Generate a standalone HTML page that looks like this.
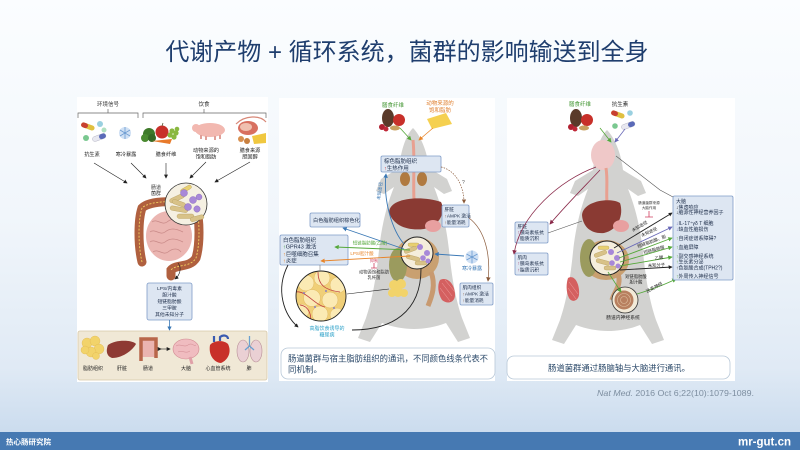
<!DOCTYPE html>
<html><head><meta charset="utf-8"><style>
html,body{margin:0;padding:0;width:800px;height:450px;overflow:hidden;background:#fff;}
svg{display:block;font-family:"Liberation Sans","Noto Sans CJK SC",sans-serif;}
</style></head><body>
<svg width="800" height="450" viewBox="0 0 800 450" xmlns="http://www.w3.org/2000/svg">
<defs>
<linearGradient id="bg" x1="0" y1="0" x2="0" y2="1">
<stop offset="0" stop-color="#fbfdff"/>
<stop offset="0.5" stop-color="#f1f6fb"/>
<stop offset="0.85" stop-color="#e0eaf5"/>
<stop offset="1" stop-color="#cbdcee"/>
</linearGradient>
<marker id="mk" viewBox="0 0 6 6" refX="5" refY="3" markerWidth="4" markerHeight="4" orient="auto" markerUnits="userSpaceOnUse"><path d="M0,0 L6,3 L0,6 Z" fill="#222"/></marker>
<marker id="mb" viewBox="0 0 6 6" refX="5" refY="3" markerWidth="4.5" markerHeight="4.5" orient="auto" markerUnits="userSpaceOnUse"><path d="M0,0 L6,3 L0,6 Z" fill="#3a78b5"/></marker>
<marker id="mg" viewBox="0 0 6 6" refX="5" refY="3" markerWidth="4.5" markerHeight="4.5" orient="auto" markerUnits="userSpaceOnUse"><path d="M0,0 L6,3 L0,6 Z" fill="#55a83a"/></marker>
<marker id="mo" viewBox="0 0 6 6" refX="5" refY="3" markerWidth="4.5" markerHeight="4.5" orient="auto" markerUnits="userSpaceOnUse"><path d="M0,0 L6,3 L0,6 Z" fill="#e8852a"/></marker>
<marker id="mn" viewBox="0 0 6 6" refX="5" refY="3" markerWidth="4.5" markerHeight="4.5" orient="auto" markerUnits="userSpaceOnUse"><path d="M0,0 L6,3 L0,6 Z" fill="#8a5a3a"/></marker>
<marker id="mm" viewBox="0 0 6 6" refX="5" refY="3" markerWidth="4.5" markerHeight="4.5" orient="auto" markerUnits="userSpaceOnUse"><path d="M0,0 L6,3 L0,6 Z" fill="#8a2a4a"/></marker>
<marker id="mp" viewBox="0 0 6 6" refX="5" refY="3" markerWidth="4.5" markerHeight="4.5" orient="auto" markerUnits="userSpaceOnUse"><path d="M0,0 L6,3 L0,6 Z" fill="#6a6ab8"/></marker>
<clipPath id="fatclip"><circle cx="321" cy="296" r="25"/></clipPath>
<path id="mouse" d="M413,128 C420,135 427,150 429,168 L447,179 L452,191 L444,194 L434,187 C440,202 446,222 449,250 C452,280 456,300 462,318 L470,338 L458,342 L446,323 C436,327 424,329 414,329 C404,329 392,327 382,323 L370,342 L358,338 L366,318 C372,300 376,280 379,250 C382,222 388,202 394,187 L384,194 L376,191 L381,179 L399,168 C401,150 406,135 413,128 Z"/>
</defs>

<rect width="800" height="432" fill="url(#bg)"/>
<rect y="432" width="800" height="18" fill="#4679b2"/>
<text x="6" y="444.5" font-size="7.5" font-weight="bold" fill="#fff">热心肠研究院</text>
<text x="791" y="445.5" font-size="11.5" font-weight="bold" fill="#fff" text-anchor="end">mr-gut.cn</text>

<text x="407" y="60" font-size="24" fill="#1f3e6e" text-anchor="middle">代谢产物 + 循环系统，菌群的影响输送到全身</text>

<text x="754" y="396" font-size="8.5" fill="#7d8ea0" text-anchor="end" textLength="157" lengthAdjust="spacingAndGlyphs"><tspan font-style="italic">Nat Med.</tspan> 2016 Oct 6;22(10):1079-1089.</text>

<!-- ================= PANEL 1 ================= -->
<rect x="77" y="97" width="191" height="285" fill="#fff"/>
<g stroke="#666" stroke-width="0.7" fill="none">
<path d="M78,118 V113 H138 V118 M108,113 V109"/>
<path d="M143,118 V113 H266 V118 M204,113 V109"/>
</g>
<g font-size="5.5" fill="#333" text-anchor="middle">
<text x="108" y="106">环境信号</text>
<text x="204" y="106">饮食</text>
</g>
<!-- pills -->
<g>
<rect x="81" y="124" width="14" height="5" rx="2.5" fill="#e0c040" transform="rotate(20 88 126)"/>
<rect x="81" y="124" width="7" height="5" rx="2.5" fill="#c84030" transform="rotate(20 88 126)"/>
<rect x="92" y="135" width="14" height="5" rx="2.5" fill="#e8e8f0" stroke="#aab" stroke-width="0.4" transform="rotate(-20 99 137)"/>
<rect x="99" y="135" width="7" height="5" rx="2.5" fill="#5a6ab8" transform="rotate(-20 99 137)"/>
<circle cx="100" cy="124" r="3" fill="#9ad0e0"/>
<circle cx="86" cy="138" r="3" fill="#7ac890"/>
<circle cx="104" cy="130" r="2.5" fill="#b0e0c0"/>
</g>
<!-- snowflake -->
<circle cx="125" cy="133" r="6" fill="#cfe0f4"/>
<g stroke="#6a9ad0" stroke-width="0.8"><path d="M125,127 V139 M120,130 L130,136 M120,136 L130,130"/></g>
<!-- veggies -->
<circle cx="149" cy="134" r="6" fill="#3e7a2a"/><circle cx="145" cy="138" r="4" fill="#4a8a30"/><circle cx="152" cy="138" r="4" fill="#356a25"/>
<circle cx="162" cy="132" r="6.5" fill="#c8302a"/><path d="M162,126 l1,-3" stroke="#553" stroke-width="0.8"/>
<path d="M152,141 L172,139 L170,144 Z" fill="#e87a2a"/>
<g fill="#8ab840"><circle cx="172" cy="131" r="2.6"/><circle cx="176" cy="133" r="2.6"/><circle cx="170" cy="135" r="2.6"/><circle cx="174" cy="137" r="2.6"/><circle cx="177" cy="129" r="2.3"/></g>
<!-- pig -->
<ellipse cx="210" cy="130" rx="15" ry="7" fill="#f2b8b0"/>
<ellipse cx="196" cy="128" rx="4" ry="4" fill="#f2b8b0"/>
<g stroke="#e0a098" stroke-width="2"><path d="M201,135 v4 M206,136 v4 M215,136 v4 M220,135 v4"/></g>
<!-- meat/cheese -->
<ellipse cx="248" cy="128" rx="10" ry="7" fill="#d87060"/>
<ellipse cx="246" cy="127" rx="6" ry="4" fill="#f0c0b0"/>
<path d="M252,136 L266,133 L266,143 L254,144 Z" fill="#f0c840"/>
<circle cx="241" cy="139" r="3" fill="#d89050"/><circle cx="247" cy="141" r="3" fill="#c88040"/>
<path d="M236,124 C245,115 260,115 266,122" stroke="#d88878" stroke-width="1.2" fill="none"/>
<!-- labels -->
<g font-size="5.2" fill="#222" text-anchor="middle">
<text x="92" y="156">抗生素</text>
<text x="126" y="156">寒冷暴露</text>
<text x="166" y="156">膳食纤维</text>
<text x="206" y="152">动物来源的</text>
<text x="206" y="158.5">饱和脂肪</text>
<text x="250" y="152">膳食来源</text>
<text x="250" y="158.5">胆固醇</text>
</g>
<g stroke="#222" stroke-width="0.6" fill="none" marker-end="url(#mk)">
<path d="M94,163 L127,183"/>
<path d="M131,163 L146,178"/>
<path d="M166,163 L166,178"/>
<path d="M206,162 L190,178"/>
<path d="M250,162 L215,182"/>
</g>
<text x="156" y="189" font-size="5" fill="#333" text-anchor="middle">肠道</text>
<text x="156" y="195" font-size="5" fill="#333" text-anchor="middle">菌群</text>
<!-- intestines -->
<ellipse cx="169" cy="236" rx="23" ry="25" fill="#ebb6b2"/>
<g stroke="#c98a88" stroke-width="0.8" fill="none">
<path d="M152,222 c5,-4 10,4 15,0 s10,-4 15,0 M150,232 c5,-4 10,4 15,0 s10,-4 18,0 M150,242 c5,-4 10,4 15,0 s10,-4 18,0 M153,252 c5,-4 10,4 15,0 s10,-4 13,0"/>
</g>
<path d="M142,262 C138,245 138,220 142,208 C150,200 180,200 196,206 C200,220 200,245 196,258 C190,268 176,264 171,270 L171,276" stroke="#b0603f" stroke-width="9" fill="none" stroke-linecap="round"/>
<path d="M142,262 C138,245 138,220 142,208 C150,200 180,200 196,206 C200,220 200,245 196,258 C190,268 176,264 171,270" stroke="#f0d060" stroke-width="0.9" stroke-dasharray="2,1.5" fill="none"/>
<!-- bacteria circle -->
<circle cx="186" cy="204" r="21" fill="#f5f0e2" stroke="#333" stroke-width="0.8"/>
<g fill="#d8c288" stroke="#b8a060" stroke-width="0.4">
<rect x="169" y="196" width="16" height="4.5" rx="2.2" transform="rotate(-25 177 198)"/>
<rect x="170" y="207" width="18" height="4.5" rx="2.2" transform="rotate(10 179 209)"/>
<rect x="177" y="214" width="17" height="4.5" rx="2.2"/>
<rect x="172" y="201" width="14" height="4.5" rx="2.2" transform="rotate(20 179 203)"/>
<rect x="190" y="216" width="14" height="4.5" rx="2.2" transform="rotate(-15 197 218)"/>
<rect x="180" y="187" width="12" height="4" rx="2" fill="#e8d070" transform="rotate(-30 186 189)"/>
</g>
<g fill="#a888d8" stroke="#8060b8" stroke-width="0.4">
<circle cx="184" cy="193" r="3.5"/><circle cx="193" cy="200" r="3.5"/><circle cx="188" cy="207" r="3.5"/><circle cx="197" cy="209" r="3.2"/><circle cx="199" cy="197" r="3"/>
</g>
<path d="M178,263 C182,268 180,275 175,279" stroke="#222" stroke-width="0.6" fill="none" marker-end="url(#mk)"/>
<!-- LPS box -->
<rect x="147" y="283" width="45" height="37" rx="2" fill="#dde6f2" stroke="#7f9cc8" stroke-width="0.8"/>
<g font-size="4.8" fill="#1c2c48" text-anchor="middle">
<text x="169.5" y="290">LPS/内毒素</text>
<text x="169.5" y="296.5">胆汁酸</text>
<text x="169.5" y="303">短链脂肪酸</text>
<text x="169.5" y="309.5">三甲胺</text>
<text x="169.5" y="316">其他未知分子</text>
</g>
<path d="M169.5,320 V330" stroke="#3a78b5" stroke-width="0.8" marker-end="url(#mb)"/>
<!-- beige box -->
<rect x="78" y="331" width="189" height="49" rx="2" fill="#f0e8d6" stroke="#d6c8a8" stroke-width="0.8"/>
<g fill="#f2d36a" stroke="#e0b850" stroke-width="0.4">
<circle cx="87" cy="343" r="5"/><circle cx="95" cy="341" r="5"/><circle cx="99" cy="349" r="5"/><circle cx="91" cy="352" r="5"/><circle cx="85" cy="350" r="4"/><circle cx="96" cy="356" r="3.5"/>
</g>
<path d="M108,345 C116,339 133,340 136,344 C132,351 122,358 112,358 C106,356 106,350 108,345 Z" fill="#8e3a33"/>
<rect x="142" y="340" width="13" height="17" fill="#eab4b0"/>
<path d="M141,361 V339 H156 V358" stroke="#b8664a" stroke-width="3.5" fill="none"/>
<path d="M161,349 H170" stroke="#222" stroke-width="0.6" marker-end="url(#mk)" marker-start="url(#mk)"/>
<ellipse cx="186" cy="349" rx="13" ry="10" fill="#f0bcc0" stroke="#d08890" stroke-width="0.6"/>
<path d="M176,346 c4,-3 8,2 12,-1 s6,2 8,0 M178,352 c4,-2 8,2 12,-1" stroke="#d08890" stroke-width="0.5" fill="none"/>
<path d="M190,357 L192,364" stroke="#e0a0a8" stroke-width="3"/>
<path d="M210,345 C208,357 216,363 221,363 C228,360 232,352 228,344 C224,340 214,340 210,345 Z" fill="#c8302a"/>
<path d="M214,342 V336 M220,341 V337 C224,334 228,336 228,339" stroke="#3a5ab0" stroke-width="2.2" fill="none"/>
<ellipse cx="243" cy="351" rx="6" ry="11" fill="#ead0d4" stroke="#b89098" stroke-width="0.6"/>
<ellipse cx="256" cy="351" rx="6" ry="11" fill="#ead0d4" stroke="#b89098" stroke-width="0.6"/>
<path d="M249.5,336 V346 M249.5,346 L245,350 M249.5,346 L254,350" stroke="#6aa0d0" stroke-width="1.3" fill="none"/>
<g font-size="5" fill="#222" text-anchor="middle">
<text x="93" y="370">脂肪组织</text>
<text x="122" y="370">肝脏</text>
<text x="148" y="370">肠道</text>
<text x="186" y="370">大脑</text>
<text x="218" y="370">心血管系统</text>
<text x="249" y="370">肺</text>
</g>

<!-- ================= PANEL 2 ================= -->
<rect x="279" y="98" width="216" height="283" fill="#fff"/>
<use href="#mouse" fill="#d2d2d0"/>
<path d="M413,140 C415,160 413,180 414,200" stroke="#e8a090" stroke-width="3" fill="none"/>
<ellipse cx="405" cy="179" rx="5" ry="7" fill="#b07a40"/>
<ellipse cx="422" cy="179" rx="5" ry="7" fill="#b07a40"/>
<path d="M389,212 C390,198 420,195 441,202 C446,212 440,226 424,229 C408,231 393,226 389,212 Z" fill="#8a3a33"/>
<ellipse cx="433" cy="226" rx="8" ry="6" fill="#e8a0a0"/>
<ellipse cx="417" cy="258" rx="22" ry="21" fill="#c9a070"/>
<ellipse cx="398" cy="265" rx="9" ry="17" fill="#9b9b5e"/>
<path d="M431,272 C436,285 432,296 428,306" stroke="#c89a70" stroke-width="5" fill="none"/>
<!-- fat blob -->
<g fill="#f2d36a"><circle cx="394" cy="285" r="5"/><circle cx="401" cy="284" r="5"/><circle cx="398" cy="292" r="5"/><circle cx="404" cy="293" r="4"/><circle cx="392" cy="293" r="4"/></g>
<!-- muscle -->
<path d="M440,280 C448,276 455,285 455,295 C455,302 448,305 442,300 C438,294 437,285 440,280 Z" fill="#d46060"/>
<g stroke="#f0a0a0" stroke-width="0.5"><path d="M442,283 L452,296 M440,288 L450,301 M445,280 L455,292"/></g>
<!-- gut circle -->
<circle cx="417" cy="253" r="16" fill="#f5eedc" stroke="#222" stroke-width="1"/>
<g fill="#d8c288" stroke="#b8a060" stroke-width="0.4">
<rect x="404" y="248" width="13" height="4" rx="2" transform="rotate(-20 410 250)"/>
<rect x="406" y="256" width="14" height="4" rx="2" transform="rotate(15 413 258)"/>
<rect x="415" y="261" width="12" height="4" rx="2"/>
<rect x="408" y="243" width="11" height="3.5" rx="1.7" fill="#e8d070"/>
</g>
<g fill="#a888d8"><circle cx="420" cy="247" r="3"/><circle cx="427" cy="253" r="3"/><circle cx="423" cy="258" r="2.8"/><circle cx="428" cy="261" r="2.5"/></g>
<!-- fat circle -->
<circle cx="321" cy="296" r="25" fill="#f0cf78"/>
<g clip-path="url(#fatclip)">
<g fill="#fbeab4" stroke="#e0b860" stroke-width="0.5">
<circle cx="306" cy="283" r="8"/><circle cx="322" cy="278" r="8"/><circle cx="338" cy="285" r="8"/><circle cx="312" cy="298" r="8.5"/><circle cx="330" cy="300" r="8"/><circle cx="302" cy="311" r="7"/><circle cx="320" cy="314" r="8"/><circle cx="337" cy="315" r="7"/>
</g>
<path d="M296,292 C305,290 315,305 325,307 M318,272 C318,285 325,290 340,292 M300,305 C310,306 312,318 310,322" stroke="#c04040" stroke-width="0.8" fill="none"/>
<g fill="#8a80c0"><circle cx="304" cy="293" r="1"/><circle cx="326" cy="291" r="1"/><circle cx="315" cy="307" r="1"/><circle cx="334" cy="308" r="1"/></g>
</g>
<circle cx="321" cy="296" r="25" fill="none" stroke="#222" stroke-width="0.9"/>
<!-- top foods -->
<text x="393" y="107" font-size="5.5" fill="#4a9a3a" text-anchor="middle">膳食纤维</text>
<text x="440" y="105" font-size="5.5" fill="#e08030" text-anchor="middle">动物来源的</text>
<text x="440" y="112" font-size="5.5" fill="#e08030" text-anchor="middle">饱和脂肪</text>
<ellipse cx="388" cy="118" rx="6" ry="9" fill="#5a3a2a"/>
<circle cx="399" cy="120" r="6" fill="#c8302a"/>
<circle cx="382" cy="127" r="3" fill="#b02030"/><circle cx="386" cy="129" r="2.5" fill="#c02838"/>
<ellipse cx="395" cy="128" rx="5" ry="2.5" fill="#c8a060"/>
<path d="M427,119 L446,113 L452,124 L432,129 Z" fill="#f5d050"/>
<path d="M400,128 L411,140" stroke="#55a83a" stroke-width="0.8" marker-end="url(#mg)"/>
<path d="M433,128 L419,140" stroke="#e8852a" stroke-width="0.8" marker-end="url(#mo)"/>
<!-- boxes panel 2 -->
<g fill="#dde6f2" stroke="#7f9cc8" stroke-width="0.8">
<rect x="381" y="156" width="60" height="16" rx="1.5"/>
<rect x="442" y="205" width="27" height="22" rx="1.5"/>
<rect x="310" y="213" width="50" height="14" rx="1.5"/>
<rect x="280" y="235" width="68" height="30" rx="1.5"/>
<rect x="460" y="283" width="33" height="22" rx="1.5"/>
</g>
<g font-size="5.5" fill="#1c2c48">
<text x="384" y="163">棕色脂肪组织</text>
<text x="384" y="170"><tspan fill="#d04040">↑</tspan>生热作用</text>
<text x="313" y="222" font-size="5.2">白色脂肪组织棕色化</text>
<text x="283" y="242">白色脂肪组织</text>
<text x="283" y="248.5"><tspan fill="#3a9a3a">↑</tspan>GPR43 激活</text>
<text x="283" y="256"><tspan fill="#e8852a">↑</tspan>巨噬细胞召集</text>
<text x="283" y="262.5"><tspan fill="#e8852a">↑</tspan>炎症</text>
</g>
<g font-size="4.7" fill="#1c2c48">
<text x="444.5" y="211">肝脏</text>
<text x="444.5" y="217.5"><tspan fill="#8a5a3a">↑</tspan>AMPK 激活</text>
<text x="444.5" y="224"><tspan fill="#8a5a3a">↑</tspan>能量消耗</text>
<text x="462.5" y="289">肌肉组织</text>
<text x="462.5" y="295.5"><tspan fill="#8a5a3a">↑</tspan>AMPK 激活</text>
<text x="462.5" y="302"><tspan fill="#8a5a3a">↑</tspan>能量消耗</text>
</g>
<!-- arrows panel 2 -->
<path d="M404,244 C392,230 383,200 386,174" stroke="#3a78b5" stroke-width="0.9" fill="none" marker-end="url(#mb)"/>
<text x="0" y="0" font-size="4.5" fill="#3a78b5" transform="translate(380,200) rotate(-82)">未知途径</text>
<path d="M404,249 L343,228" stroke="#3a78b5" stroke-width="0.9" marker-end="url(#mb)"/>
<path d="M410,250 L335,247" stroke="#55a83a" stroke-width="0.9" marker-end="url(#mg)"/>
<text x="370" y="244.5" font-size="4.5" fill="#55a83a" text-anchor="middle">短链脂肪酸(乙酸)</text>
<path d="M410,256 L321,261" stroke="#e8852a" stroke-width="0.9" marker-end="url(#mo)"/>
<text x="362" y="255" font-size="4.5" fill="#e8852a" text-anchor="middle">LPS/胆汁酸</text>
<text x="374" y="262" font-size="4" fill="#d04060" text-anchor="middle">抑制</text>
<path d="M374,263 V268 M371,268 H377" stroke="#d04060" stroke-width="0.8"/>
<text x="374" y="273.5" font-size="4.3" fill="#333" text-anchor="middle">动物源饱和脂肪</text>
<text x="374" y="279" font-size="4.3" fill="#333" text-anchor="middle">乳杆菌</text>
<!-- snowflake -->
<circle cx="472" cy="257" r="6.5" fill="#cfe0f4"/>
<g stroke="#6a9ad0" stroke-width="0.8"><path d="M472,250.5 V263.5 M466.5,254 L477.5,260 M466.5,260 L477.5,254"/></g>
<text x="472" y="270" font-size="5" fill="#3a78b5" text-anchor="middle">寒冷暴露</text>
<path d="M464,256 L435,254" stroke="#3a78b5" stroke-width="0.9" marker-end="url(#mb)"/>
<path d="M441,167 C455,170 464,185 464,203" stroke="#8a5a3a" stroke-width="0.7" stroke-dasharray="1.5,1.2" fill="none" marker-end="url(#mn)"/>
<text x="462" y="184" font-size="5" fill="#555">?</text>
<path d="M469,218 C485,230 491,255 488,281" stroke="#8a5a3a" stroke-width="0.7" fill="none" marker-end="url(#mn)"/>
<path d="M288,265 C275,290 284,315 298,327" stroke="#222" stroke-width="0.9" fill="none" marker-end="url(#mk)"/>
<path d="M389,289 L347,294" stroke="#222" stroke-width="0.6"/>
<path d="M320,265 V271" stroke="#777" stroke-width="0.6"/>
<path d="M352,330 C392,330 421,312 421,269" stroke="#222" stroke-width="0.9" fill="none"/>
<text x="327" y="330" font-size="5" fill="#2aa0c8" text-anchor="middle">高脂饮食诱导的</text>
<text x="327" y="336.5" font-size="5" fill="#2aa0c8" text-anchor="middle">糖尿病</text>
<!-- caption 2 -->
<rect x="281" y="348" width="214" height="31" rx="7" fill="#fff" stroke="#b8c8d8" stroke-width="0.8"/>
<text x="288" y="361.5" font-size="8.5" fill="#2c4a6a" textLength="200" lengthAdjust="spacingAndGlyphs">肠道菌群与宿主脂肪组织的通讯，不同颜色线条代表不</text>
<text x="288" y="372.5" font-size="8.5" fill="#2c4a6a">同机制。</text>

<!-- ================= PANEL 3 ================= -->
<rect x="507" y="98" width="228" height="283" fill="#fff"/>
<use href="#mouse" fill="#d2d2d0" transform="translate(194,2)"/>
<ellipse cx="603" cy="155" rx="12" ry="15" fill="#efc8c8"/>
<path d="M606,168 C608,180 606,192 607,202" stroke="#e8a090" stroke-width="3" fill="none"/>
<path d="M582,215 C583,201 610,197 620,203 C624,215 618,230 604,233 C592,234 583,228 582,215 Z" fill="#8a3a33"/>
<ellipse cx="621" cy="226" rx="8" ry="6" fill="#e8a0a0"/>
<ellipse cx="606" cy="260" rx="23" ry="20" fill="#c9a070"/>
<ellipse cx="589" cy="258" rx="9" ry="19" fill="#9b9b5e"/>
<path d="M618,274 C622,285 614,292 612,300" stroke="#c89a70" stroke-width="5" fill="none"/>
<path d="M568,278 C575,274 580,285 579,295 C578,301 572,303 569,298 C566,292 566,284 568,278 Z" fill="#d46060"/>
<g stroke="#f0a0a0" stroke-width="0.5"><path d="M569,282 L578,294 M568,288 L576,299"/></g>
<circle cx="607" cy="258" r="17" fill="#f5eedc" stroke="#222" stroke-width="1"/>
<g fill="#d8c288" stroke="#b8a060" stroke-width="0.4">
<rect x="594" y="252" width="13" height="4" rx="2" transform="rotate(-20 600 254)"/>
<rect x="596" y="260" width="14" height="4" rx="2" transform="rotate(15 603 262)"/>
<rect x="604" y="266" width="12" height="4" rx="2"/>
<rect x="598" y="246" width="11" height="3.5" rx="1.7" fill="#e8d070"/>
</g>
<g fill="#a888d8"><circle cx="611" cy="252" r="3"/><circle cx="617" cy="258" r="3"/><circle cx="612" cy="263" r="2.8"/><circle cx="618" cy="266" r="2.5"/></g>
<!-- enteric circle -->
<circle cx="625" cy="300" r="13" fill="#f2ead8" stroke="#333" stroke-width="0.8"/>
<circle cx="624" cy="300" r="9.5" fill="#b88060"/>
<g stroke="#e0c0a0" stroke-width="0.6" fill="none"><circle cx="624" cy="300" r="6.5"/><circle cx="624" cy="300" r="3.5"/></g>
<text x="623" y="319" font-size="4.8" fill="#222" text-anchor="middle">肠道内神经系统</text>
<path d="M608,272 L621,292" stroke="#55a83a" stroke-width="0.8" marker-end="url(#mg)"/>
<text x="636" y="278" font-size="4.3" fill="#222" text-anchor="middle">短链脂肪酸</text>
<text x="636" y="283.5" font-size="4.3" fill="#222" text-anchor="middle">胆汁酸</text>
<path d="M637,294 C650,290 664,285 676,279" stroke="#55a83a" stroke-width="0.9" fill="none" marker-end="url(#mg)"/>
<text font-size="4.5" fill="#222" transform="translate(647,293) rotate(-28)">迷走神经</text>
<!-- top foods panel 3 -->
<text x="580" y="106" font-size="5.5" fill="#4a9a3a" text-anchor="middle">膳食纤维</text>
<text x="620" y="106" font-size="5.5" fill="#222" text-anchor="middle">抗生素</text>
<ellipse cx="576" cy="118" rx="6" ry="9" fill="#5a3a2a"/>
<circle cx="587" cy="120" r="6" fill="#c8302a"/>
<circle cx="571" cy="127" r="3" fill="#b02030"/><circle cx="575" cy="129" r="2.5" fill="#c02838"/>
<ellipse cx="584" cy="128" rx="5" ry="2.5" fill="#c8a060"/>
<rect x="611" y="112" width="14" height="5" rx="2.5" fill="#e0c040" transform="rotate(20 618 114)"/>
<rect x="611" y="112" width="7" height="5" rx="2.5" fill="#c84030" transform="rotate(20 618 114)"/>
<rect x="621" y="123" width="14" height="5" rx="2.5" fill="#e8e8f0" stroke="#aab" stroke-width="0.4" transform="rotate(-20 628 125)"/>
<rect x="628" y="123" width="7" height="5" rx="2.5" fill="#5a6ab8" transform="rotate(-20 628 125)"/>
<circle cx="630" cy="113" r="2.8" fill="#9ad0e0"/>
<circle cx="615" cy="126" r="2.8" fill="#7ac890"/>
<path d="M600,128 L611,142" stroke="#55a83a" stroke-width="0.8" marker-end="url(#mg)"/>
<path d="M625,129 L615,142" stroke="#6a6ab8" stroke-width="0.8" marker-end="url(#mp)"/>
<!-- boxes panel 3 -->
<g fill="#dde6f2" stroke="#7f9cc8" stroke-width="0.8">
<rect x="515" y="222" width="33" height="21" rx="1.5"/>
<rect x="515" y="253" width="33" height="22" rx="1.5"/>
<rect x="673" y="196" width="60" height="84" rx="1.5"/>
</g>
<g font-size="4.8" fill="#1c2c48">
<text x="517.5" y="228">肝脏</text>
<text x="517.5" y="234"><tspan fill="#a03060">↑</tspan>胰岛素抵抗</text>
<text x="517.5" y="240"><tspan fill="#a03060">↑</tspan>脂质沉积</text>
<text x="517.5" y="259">肌肉</text>
<text x="517.5" y="265"><tspan fill="#a03060">↑</tspan>胰岛素抵抗</text>
<text x="517.5" y="271.5"><tspan fill="#a03060">↑</tspan>脂质沉积</text>
</g>
<g font-size="5" fill="#1c2c48">
<text x="676" y="203">大脑</text>
<text x="676" y="209"><tspan fill="#222">↓</tspan>焦虑响应</text>
<text x="676" y="214"><tspan fill="#222">↓</tspan>脑源性神经营养因子</text>
<text x="676" y="225"><tspan fill="#6a6ab8">↓</tspan>IL-17⁺γδ  T 细胞</text>
<text x="676" y="231"><tspan fill="#6a6ab8">↓</tspan>缺血性脑损伤</text>
<text x="676" y="240"><tspan fill="#55a83a">↑</tspan>自闭症谱系障碍?</text>
<text x="676" y="249"><tspan fill="#55a83a">↑</tspan>血脑屏障</text>
<text x="676" y="258"><tspan fill="#55a83a">↑</tspan>副交感神经系统</text>
<text x="676" y="263.5"><tspan fill="#55a83a">↑</tspan>生长素分泌</text>
<text x="676" y="269.5"><tspan fill="#222">↑</tspan>色氨酸合成(TPH2?)</text>
<text x="676" y="278"><tspan fill="#55a83a">↑</tspan>外周传入神经信号</text>
</g>
<path d="M616,156 L660,190 L673,197" stroke="#555" stroke-width="0.6" fill="none"/>
<path d="M582,221 L548,233" stroke="#555" stroke-width="0.6"/>
<path d="M600,170 C586,185 566,205 550,224" stroke="#8a2a4a" stroke-width="0.8" fill="none" marker-end="url(#mm)"/>
<path d="M596,167 C560,180 520,215 514,254" stroke="#8a2a4a" stroke-width="0.8" fill="none" marker-end="url(#mm)"/>
<!-- gut -> brain arrows -->
<path d="M614,248 L672,213" stroke="#222" stroke-width="0.9" marker-end="url(#mk)"/>
<path d="M617,253 L672,227" stroke="#6a6ab8" stroke-width="0.9" marker-end="url(#mp)"/>
<path d="M619,258 L672,238" stroke="#55a83a" stroke-width="0.9" marker-end="url(#mg)"/>
<path d="M620,262 L672,247" stroke="#55a83a" stroke-width="0.9" marker-end="url(#mg)"/>
<path d="M620,266 L672,257" stroke="#55a83a" stroke-width="0.9" marker-end="url(#mg)"/>
<path d="M620,270 L672,267" stroke="#222" stroke-width="0.9" marker-end="url(#mk)"/>
<g font-size="4.3" fill="#222">
<text transform="translate(633,232) rotate(-31)">未知途径</text>
<text transform="translate(642,237) rotate(-25)">未知途径</text>
<text transform="translate(638,248) rotate(-20)">短链脂肪酸、胆</text>
<text transform="translate(644,254) rotate(-15)">短链脂肪酸</text>
<text transform="translate(655,260) rotate(-10)">乙酸</text>
<text transform="translate(648,267) rotate(-3)">未知分子</text>
</g>
<text x="649" y="204" font-size="3.6" fill="#333" text-anchor="middle">肠道菌群来源</text>
<text x="649" y="209" font-size="3.6" fill="#333" text-anchor="middle">大脑作用</text>
<path d="M649,211 V217 M645,217 H653" stroke="#d04060" stroke-width="0.8"/>
<!-- caption 3 -->
<rect x="507" y="356" width="223" height="23" rx="7" fill="#fff" stroke="#b8c8d8" stroke-width="0.8"/>
<text x="619" y="371" font-size="8.5" fill="#2c4a6a" text-anchor="middle" textLength="142" lengthAdjust="spacingAndGlyphs">肠道菌群通过肠脑轴与大脑进行通讯。</text>
</svg>
</body></html>
